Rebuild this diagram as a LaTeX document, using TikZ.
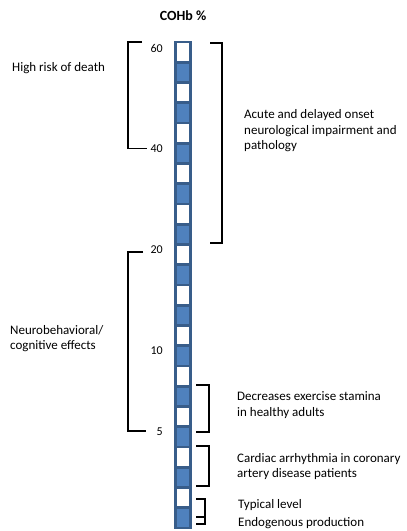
\documentclass[tikz,border=0pt]{standalone}
\usepackage{fontspec}
\setmainfont{Carlito}
\usetikzlibrary{positioning}
\definecolor{cellblue}{HTML}{4F81BD}
\definecolor{celledge}{HTML}{385D8A}
\begin{document}
\begin{tikzpicture}[x=1pt, y=-1pt,
  cell/.style={draw=celledge, line width=2.6pt, minimum width=15.4pt, minimum height=20.25pt, inner sep=0pt, outer sep=0pt, anchor=north},
  brk/.style={line width=1.8pt},
  lbl/.style={font=\fontsize{13}{15.5}\selectfont, align=left, anchor=west, inner sep=0pt},
  val/.style={font=\fontsize{12}{14}\selectfont, anchor=east, inner sep=0pt}]
\useasboundingbox (0,0) rectangle (407,531);
\node[font=\bfseries\fontsize{14}{16}\selectfont] (title) at (183,15.5) {COHb \%};
% the COHb column
\foreach \i in {0,...,23}{
  \ifodd\i \def\cellfill{cellblue}\else\def\cellfill{white}\fi
  \node[cell, fill=\cellfill] (c\i) at (183,{42+20.25*\i}) {};
}
\node[val] (v60) at (163,48) {60};
\node[val] (v40) at (163,149) {40};
\node[val] (v20) at (163,250) {20};
\node[val] (v10) at (163,351) {10};
\node[val] (v5) at (163,432) {5};
% left brackets
\draw[brk] (142,42) -- (128,42) -- (128,148.5) -- (147,148.5);
\draw[brk] (143,252) -- (128,252) -- (128,431) -- (146,431);
\node[lbl] (death) at (12,68.5) {High risk of death};
\node[lbl] (neuro) at (10,338.5) {Neurobehavioral/\\cognitive effects};
% right brackets
\draw[brk] (210,43) -- (222,43) -- (222,243) -- (210,243);
\draw[brk] (196,385) -- (209,385) -- (209,432) -- (196,432);
\draw[brk] (196,446) -- (209,446) -- (209,486) -- (196,486);
\draw[brk] (196,499) -- (205,499) -- (205,524) -- (196,524);
\draw[brk] (196,517) -- (205,517);
\node[lbl] (acute) at (244,131) {Acute and delayed onset\\neurological impairment and\\pathology};
\node[lbl] (stamina) at (237,405) {Decreases exercise stamina\\in healthy adults};
\node[lbl] (cardiac) at (237,466.5) {Cardiac arrhythmia in coronary\\artery disease patients};
\node[lbl] (typical) at (238,505) {Typical level};
\node[lbl] (endo) at (238,523) {Endogenous production};
\end{tikzpicture}
\end{document}
